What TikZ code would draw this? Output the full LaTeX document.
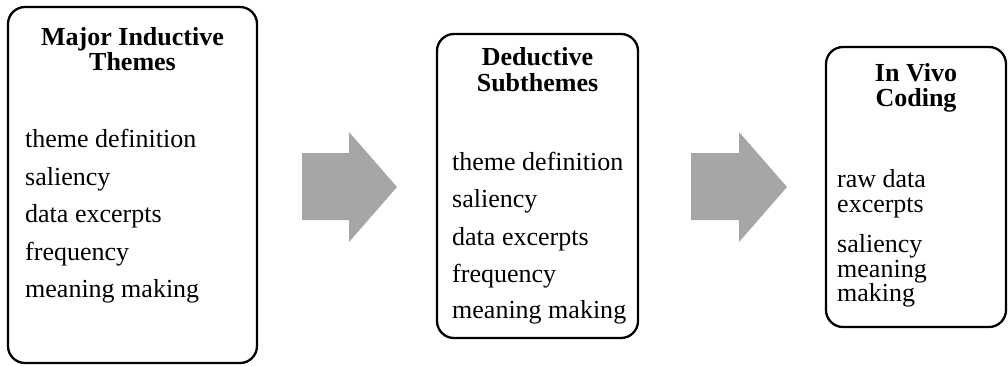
\documentclass[tikz,border=0pt]{standalone}
\usepackage{fontspec}
\setmainfont{Liberation Serif}
\definecolor{arrowgray}{RGB}{166,166,166}
\begin{document}
\begin{tikzpicture}[x=1bp,y=-1bp,
  box/.style={draw=black,line width=2.3bp,rounded corners=17bp,inner sep=0pt},
  ttl/.style={anchor=base,inner sep=0pt,font=\fontsize{26bp}{26bp}\selectfont\bfseries},
  body/.style={anchor=base west,inner sep=0pt,font=\fontsize{26bp}{30bp}\selectfont},
  blockarrow/.style={fill=arrowgray,draw=none}]
\useasboundingbox (0,0) rectangle (1008,365);
% boxes
\node[box,minimum width=249bp,minimum height=356bp] (box1) at (132.5,185) {};
\node[box,minimum width=201bp,minimum height=304bp] (box2) at (537.5,186) {};
\node[box,minimum width=180bp,minimum height=280bp] (box3) at (916,187) {};
% titles
\node[ttl] (t1a) at (132.5,45.3) {Major Inductive};
\node[ttl] (t1b) at (132.5,70.7) {Themes};
\node[ttl] (t2a) at (537.5,65.3) {Deductive};
\node[ttl] (t2b) at (537.5,91.7) {Subthemes};
\node[ttl] (t3a) at (916,81.5) {In Vivo};
\node[ttl] (t3b) at (916,106.5) {Coding};
% body texts
\foreach \t/\y [count=\i] in {theme definition/147.7,saliency/185.2,data excerpts/222.5,frequency/260,meaning making/297.3}
  \node[body] (a\i) at (25,\y) {\t};
\foreach \t/\y [count=\i] in {theme definition/170,saliency/207.5,data excerpts/245,frequency/282,meaning making/318.5}
  \node[body] (b\i) at (452,\y) {\t};
\foreach \t/\y [count=\i] in {raw data/187,excerpts/212,saliency/252,meaning/277,making/301.5}
  \node[body] (c\i) at (837,\y) {\t};
% block arrows
\coordinate (ar1) at (302,153);
\coordinate (ar2) at (691,153);
\fill[blockarrow] (ar1) -- ++(47,0) -- ++(0,-21) -- ++(48,55) -- ++(-48,55) -- ++(0,-22) -- ++(-47,0) -- cycle;
\fill[blockarrow] (ar2) -- ++(48,0) -- ++(0,-21) -- ++(48,55) -- ++(-48,55) -- ++(0,-22) -- ++(-48,0) -- cycle;
\end{tikzpicture}
\end{document}
